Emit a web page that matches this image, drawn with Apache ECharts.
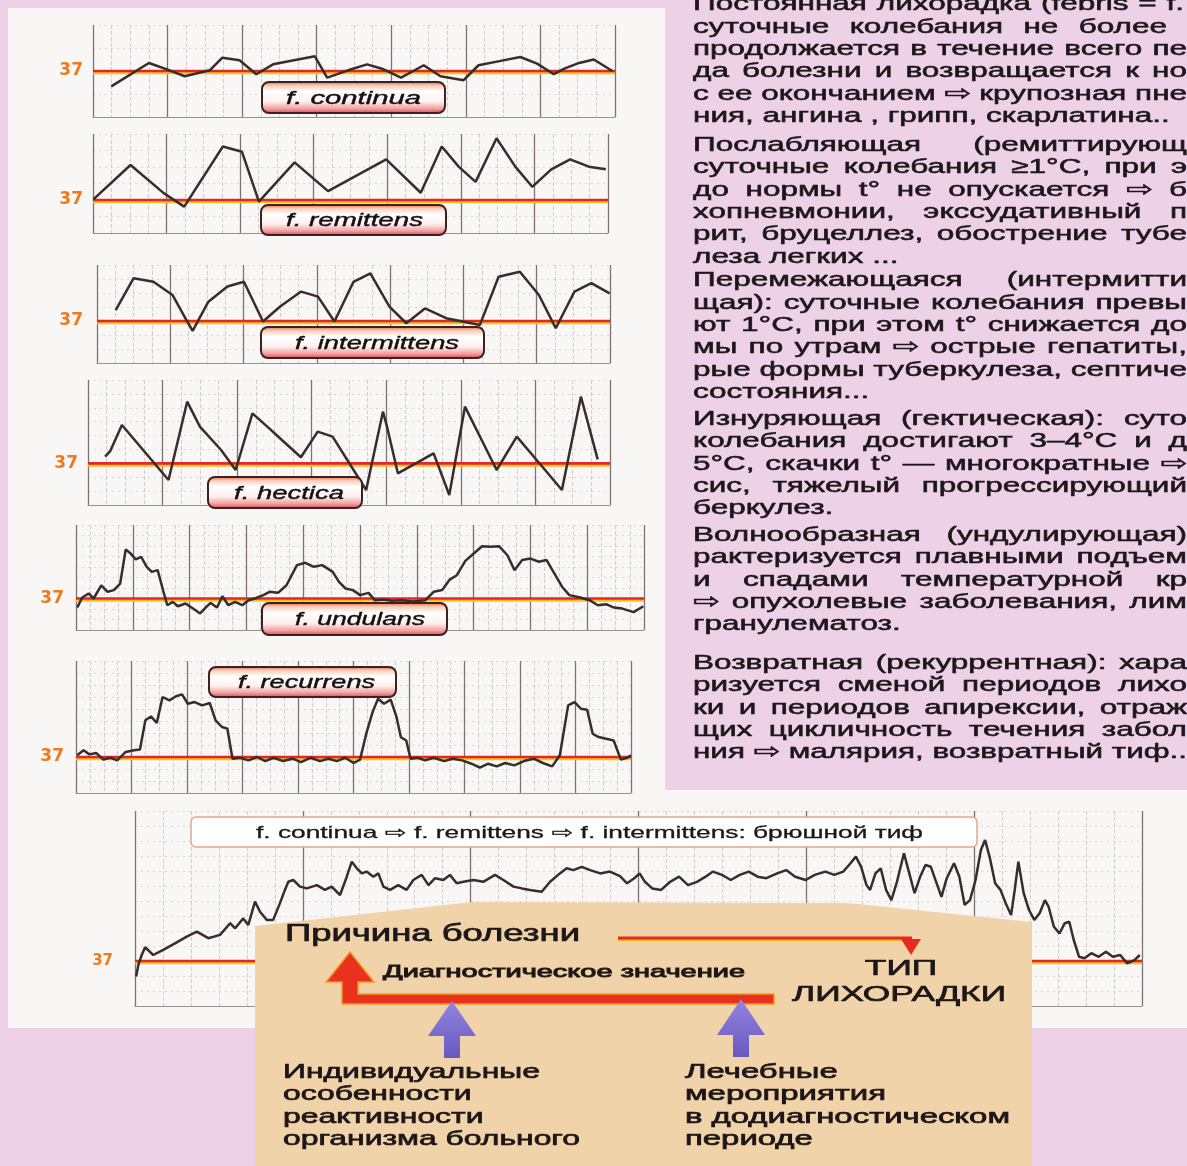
<!DOCTYPE html>
<html>
<head>
<meta charset="utf-8">
<title>Типы лихорадки</title>
<script src="https://cdn.jsdelivr.net/npm/echarts@6.0.0/dist/echarts.min.js"></script>
<style>
html,body{margin:0;padding:0;background:#ecd1e7;overflow:hidden;}
#chart{width:1187px;height:1166px;}
</style>
</head>
<body>
<div id="chart"></div>
<script>
// ================= DATA =================
const NORMAL_T = 37;

const continuaDays  = [0.49,1.50,2.00,2.46,3.13,3.47,3.93,4.38,4.83,5.39,5.95,6.28,6.84,7.35,7.75,8.26,8.59,8.87,9.32,9.94,10.34,10.90,11.46,11.91,12.36,12.64,13.04,13.43,13.93];
const continuaTemps = [36.33,37.35,37.06,36.77,37.03,37.58,37.47,36.86,37.29,37.47,37.64,36.71,37.03,37.29,37.10,36.71,37.00,37.25,36.77,36.60,37.25,37.43,37.61,37.32,36.86,37.10,37.35,37.50,37.00];

const remittensDays  = [0.01,1.02,1.93,2.48,3.53,4.05,4.51,5.48,6.39,7.97,8.91,9.48,9.94,10.40,10.97,11.48,11.94,12.46,12.97,13.48,13.94];
const remittensTemps = [37.02,38.06,37.20,36.80,38.62,38.46,36.95,38.14,37.27,38.23,37.22,38.62,38.01,37.55,38.87,38.01,37.40,37.93,38.23,38.01,37.93];

const intermittensDays  = [0.51,1.00,1.54,2.06,2.41,2.61,3.04,3.56,4.01,4.53,4.99,5.57,6.03,6.48,7.00,7.46,7.98,8.44,8.95,9.53,10.45,10.96,11.54,12.06,12.52,13.03,13.49,13.99];
const intermittensTemps = [37.39,38.53,38.40,37.93,37.10,36.65,37.69,38.23,38.40,36.98,37.51,38.05,37.87,36.98,38.40,38.70,37.51,36.92,37.45,37.10,36.86,38.58,38.76,37.93,36.74,38.05,38.35,37.99];

const hecticaDays  = [0.46,0.60,0.91,2.16,2.66,3.00,3.57,3.96,4.41,4.86,5.20,5.71,6.16,6.56,7.46,7.91,8.02,8.31,9.27,9.69,10.11,10.96,11.50,12.26,12.71,13.22,13.67];
const hecticaTemps = [37.24,37.45,38.38,36.40,39.22,38.32,37.48,36.76,38.80,38.26,37.84,37.22,38.14,37.96,36.04,38.86,38.32,36.64,37.36,35.86,39.04,36.76,37.96,36.76,36.04,39.40,37.14];

const undulansDays  = [0.09,0.44,0.89,1.24,1.78,2.22,2.67,3.11,3.50,3.85,4.21,4.59,4.98,5.33,5.75,6.16,6.43,6.82,7.17,7.71,8.24,8.74,9.13,9.48,9.93,10.31,10.73,11.20,11.71,12.15,12.60,13.19,13.63,14.23,14.82,15.56,16.15,16.75,17.34,18.08,18.52,18.97,19.50,20.01,20.60,21.04,21.64,22.23,22.97,23.71,24.60,25.19,25.79,26.32,26.82,27.42,28.01,28.60,29.19,29.79,30.38,30.88,31.42,32.01,32.60,33.14,33.55,34.23,34.74,35.51,36.16,36.75,37.34,37.88,38.47,39.27,39.95];
const undulansTemps = [36.57,37.05,37.24,37.00,37.63,37.32,37.40,37.71,39.33,39.14,38.86,38.98,38.51,38.27,38.35,37.32,36.68,36.84,36.63,36.76,36.52,36.29,36.57,36.79,36.57,37.11,36.68,36.84,36.68,36.92,37.00,37.16,37.32,37.27,37.63,38.59,38.70,38.51,38.59,38.27,37.79,37.48,37.40,37.16,37.27,36.92,36.95,36.89,36.92,36.86,36.92,37.32,37.40,37.90,38.11,38.79,39.14,39.49,39.46,39.49,39.06,38.35,38.83,38.90,38.75,38.83,38.35,37.56,37.16,37.05,36.92,36.68,36.73,36.57,36.52,36.35,36.63];

const recurrensDays  = [0.09,0.54,0.97,1.45,1.97,2.48,2.97,3.58,4.18,4.61,5.00,5.40,5.82,6.24,6.73,7.21,7.64,8.06,8.55,9.09,9.64,10.06,10.52,10.91,11.28,11.82,12.43,13.04,13.64,14.25,14.92,15.61,16.22,16.92,17.58,18.19,18.80,19.40,20.01,20.47,20.92,21.38,21.77,22.20,22.68,23.10,23.41,23.80,24.11,24.62,25.16,25.77,26.53,27.14,27.83,28.50,29.11,29.71,30.32,30.93,31.59,32.29,32.99,33.65,34.32,34.87,35.47,35.93,36.39,36.84,37.24,37.66,38.21,38.75,39.27,39.72,40.00];
const recurrensTemps = [37.07,37.28,37.11,37.17,36.89,36.97,36.86,37.21,37.28,37.31,38.53,38.69,38.42,39.50,39.36,39.53,39.61,39.22,39.29,39.15,39.25,38.53,38.25,38.18,36.93,36.97,36.86,37.00,36.83,36.97,36.83,36.93,36.79,36.97,36.83,36.93,36.83,36.97,36.75,36.89,37.97,38.88,39.43,39.22,39.39,38.67,37.83,37.69,36.93,36.97,36.86,36.97,36.83,36.93,36.86,36.72,36.56,36.72,36.61,36.75,36.65,36.83,36.93,36.75,36.61,37.07,39.15,39.29,39.01,38.97,37.97,37.83,37.76,37.69,36.89,36.97,37.07];

const typhoidDays  = [0.04,0.12,0.24,0.36,0.65,1.01,1.43,1.85,2.21,2.62,3.04,3.40,3.58,3.87,4.05,4.29,4.47,4.71,4.94,5.18,5.36,5.48,5.66,5.90,6.14,6.50,6.79,7.03,7.33,7.57,7.75,7.93,8.11,8.28,8.52,8.70,8.88,9.12,9.41,9.71,9.95,10.25,10.49,10.73,11.02,11.26,11.50,11.74,12.10,12.45,12.87,13.17,13.53,13.83,14.12,14.54,14.84,15.19,15.43,15.67,15.97,16.27,16.63,16.98,17.34,17.59,17.85,18.04,18.23,18.49,18.81,19.13,19.45,19.77,20.09,20.40,20.66,20.98,21.30,21.62,21.94,22.26,22.57,22.96,23.28,23.60,23.98,24.30,24.68,25.00,25.32,25.58,25.77,25.96,26.15,26.28,26.47,26.66,26.85,27.04,27.24,27.49,27.68,27.87,28.07,28.26,28.45,28.64,28.83,29.02,29.28,29.47,29.66,29.85,30.05,30.24,30.39,30.55,30.75,30.94,31.13,31.32,31.45,31.58,31.77,31.96,32.15,32.34,32.53,32.66,32.85,33.05,33.24,33.40,33.56,33.75,33.94,34.19,34.45,34.71,34.96,35.22,35.47,35.73,35.92];
const typhoidTemps = [36.48,36.87,37.20,37.46,37.20,37.37,37.59,37.81,37.98,37.76,37.87,38.26,38.09,38.42,38.20,38.98,38.64,38.37,38.37,38.92,39.37,39.64,39.70,39.48,39.42,39.53,39.37,39.48,39.20,39.81,40.31,40.09,39.92,39.98,39.81,39.92,39.48,39.37,39.53,39.37,39.70,39.87,39.53,39.76,39.70,39.87,39.59,39.64,39.70,39.64,39.87,39.70,39.48,39.42,39.37,39.31,39.64,39.92,40.09,40.03,40.14,40.03,39.92,39.98,39.83,39.59,39.76,39.92,39.64,39.42,39.37,39.64,39.81,39.53,39.64,39.81,39.98,39.87,39.70,39.87,39.98,39.81,39.76,39.92,40.03,39.81,39.70,39.87,39.98,39.87,39.98,40.26,40.48,40.14,39.53,39.37,39.92,40.09,39.37,39.03,39.64,40.59,39.92,39.26,39.81,40.20,40.14,39.64,39.14,39.76,40.26,39.81,38.87,39.03,39.70,40.70,41.03,40.48,39.59,39.37,38.92,38.53,39.37,40.31,39.26,38.70,38.37,38.59,39.03,38.81,38.14,37.92,38.26,38.31,37.70,37.14,37.09,37.26,37.14,37.31,37.14,37.20,36.92,37.03,37.20];

const panelLabels = ['f. continua','f. remittens','f. intermittens','f. hectica','f. undulans','f. recurrens'];
const typhoidLabel = 'f. continua ⇨ f. remittens ⇨ f. intermittens: брюшной тиф';

const bodyParagraphs = [
  ['Постоянная лихорадка (febris = f.',
   'суточные колебания не более',
   'продолжается в течение всего пе',
   'да болезни и возвращается к но',
   'с ее окончанием ⇨ крупозная пне',
   'ния, ангина , грипп, скарлатина..'],
  ['Послабляющая (ремиттирующ',
   'суточные колебания ≥1°C, при э',
   'до нормы t° не опускается ⇨ б',
   'хопневмонии, экссудативный п',
   'рит, бруцеллез, обострение тубе',
   'леза легких ...'],
  ['Перемежающаяся (интермитти',
   'щая): суточные колебания превы',
   'ют 1°C, при этом t° снижается до',
   'мы по утрам ⇨ острые гепатиты,',
   'рые формы туберкулеза, септиче',
   'состояния...'],
  ['Изнуряющая (гектическая): суто',
   'колебания достигают 3–4°C и д',
   '5°C, скачки t° — многократные ⇨',
   'сис, тяжелый прогрессирующий',
   'беркулез.'],
  ['Волнообразная (ундулирующая)',
   'рактеризуется плавными подъем',
   'и спадами температурной кр',
   '⇨ опухолевые заболевания, лим',
   'гранулематоз.'],
  ['Возвратная (рекуррентная): хара',
   'ризуется сменой периодов лихо',
   'ки и периодов апирексии, отраж',
   'щих цикличность течения забол',
   'ния ⇨ малярия, возвратный тиф..']
];

const causeText = 'Причина болезни';
const diagText = 'Диагностическое значение';
const typeLines = ['ТИП', 'ЛИХОРАДКИ'];
const leftFactorLines = ['Индивидуальные', 'особенности', 'реактивности', 'организма больного'];
const rightFactorLines = ['Лечебные', 'мероприятия', 'в додиагностическом', 'периоде'];

// ================= LAYOUT =================
const panels = [
  {days:continuaDays, temps:continuaTemps, left:93, right:615, top:25, height:92, xMax:14, xInt:2, xMinor:4, yMin:35, yMax:39, yInt:1, lab:17, mar:10,
   box:{x:262,y:82,w:183,h:31,tx:286,tw:135}},
  {days:remittensDays, temps:remittensTemps, left:93, right:608, top:134, height:99, xMax:14, xInt:2, xMinor:4, yMin:36, yMax:39, yInt:0.5, lab:17, mar:10,
   box:{x:261,y:205,w:185,h:30,tx:286,tw:137}},
  {days:intermittensDays, temps:intermittensTemps, left:97, right:610, top:265, height:98, xMax:14, xInt:2, xMinor:4, yMin:35.5, yMax:39, yInt:0.5, lab:17, mar:14,
   box:{x:261,y:327,w:223,h:31,tx:295,tw:164}},
  {days:hecticaDays, temps:hecticaTemps, left:88, right:610, top:380, height:125, xMax:14, xInt:2, xMinor:4, yMin:35.5, yMax:40, yInt:0.5, lab:17, mar:10,
   box:{x:208,y:477,w:154,h:31,tx:234,tw:110}},
  {days:undulansDays, temps:undulansTemps, left:76, right:644, top:525, height:105, xMax:40, xInt:4, xMinor:4, yMin:35.5, yMax:40.5, yInt:0.5, lab:17, mar:12,
   box:{x:262,y:603,w:185,h:32,tx:295,tw:130}},
  {days:recurrensDays, temps:recurrensTemps, left:76, right:631, top:661, height:132, xMax:40, xInt:4, xMinor:4, yMin:35.5, yMax:41, yInt:0.5, lab:17, mar:12,
   box:{x:209,y:667,w:187,h:30,tx:238,tw:137}},
  {days:typhoidDays, temps:typhoidTemps, left:135, right:1142, top:811, height:195, xMax:36, xInt:6, xMinor:6, yMin:35.5, yMax:42, yInt:0.5, lab:15, mar:22,
   box:null}
];

const FONT = "'Liberation Sans', Arial, 'DejaVu Sans', sans-serif";
const INK = '#1c1718';
const mctx = document.createElement('canvas').getContext('2d');
function measure(t, size, weight, style) {
  mctx.font = (style || 'normal') + ' ' + (weight || 'normal') + ' ' + size + 'px ' + FONT;
  return mctx.measureText(t).width;
}
function textEl(t, x, y, size, sx, o) {
  o = o || {};
  const fill = o.fill || INK;
  return {type:'text', x:x, y:y, scaleX:sx, z:o.z || 40, silent:true,
    style:{text:t, fontSize:size, fontFamily:FONT, fontWeight:o.weight || 'normal', fontStyle:o.style || 'normal',
      fill:fill, align:o.align || 'left', verticalAlign:'middle',
      stroke:fill, lineWidth:o.bold === undefined ? 0.55 : o.bold}};
}
function fitText(t, x, y, w, size, o) {
  o = o || {};
  const sx = w / measure(t, size, o.weight, o.style);
  return textEl(t, x, y, size, sx, o);
}

const graphics = [];
// white paper panel
graphics.push({type:'polygon', z:-10, silent:true,
  shape:{points:[[8,8],[665,8],[665,790],[1187,790],[1187,1028],[8,1028]]},
  style:{fill:'#f8f7f6'}});

// label boxes
const boxFill = {type:'linear', x:0, y:0, x2:0, y2:1, colorStops:[
  {offset:0, color:'#e4562e'}, {offset:0.14, color:'#f8cdb8'}, {offset:0.32, color:'#ffffff'},
  {offset:0.62, color:'#fdf1ee'}, {offset:0.84, color:'#f2a0a0'}, {offset:1, color:'#d93b3b'}]};
panels.forEach((p, i) => {
  if (!p.box) return;
  const b = p.box;
  graphics.push({type:'rect', z:50, silent:true, shape:{x:b.x, y:b.y, width:b.w, height:b.h, r:7},
    style:{fill:boxFill, stroke:'#3e2020', lineWidth:2}});
  graphics.push(fitText(panelLabels[i], b.tx, b.y + b.h / 2 + 1, b.tw, 19, {style:'italic', fill:'#141010', z:51, bold:0.4}));
});
// typhoid label box
graphics.push({type:'rect', z:50, silent:true, shape:{x:191, y:817, width:786, height:30, r:5},
  style:{fill:'#ffffff', stroke:'#e8a58e', lineWidth:1.5}});
graphics.push(fitText(typhoidLabel, 256, 833, 667, 17, {fill:'#1d1818', z:51, bold:0.3}));

// right column text (justified)
const BODY = {L:693, size:21, sx:1.5, pitch:22.4};
const paraTops = [4.5, 145, 280.5, 419, 535, 663];
const lineRight = {'0-0':1184, '0-1':1167};
bodyParagraphs.forEach((lines, pi) => {
  lines.forEach((line, li) => {
    const y = paraTops[pi] + li * BODY.pitch;
    const last = li === lines.length - 1;
    const R = lineRight[pi + '-' + li] || 1187;
    const words = line.split(' ').filter(Boolean);
    const raw = words.map(w => measure(w, BODY.size));
    const sp = measure(' ', BODY.size);
    const sumRaw = raw.reduce((a, b) => a + b, 0);
    const avail = R - BODY.L;
    let sx = BODY.sx;
    let gap;
    const natural = (sumRaw + sp * (words.length - 1)) * sx;
    if (natural > avail) { sx = avail / (sumRaw + sp * (words.length - 1)); gap = sp * sx; }
    else if (!last && words.length > 1) { gap = (avail - sumRaw * sx) / (words.length - 1); }
    else gap = sp * sx;
    let x = BODY.L;
    words.forEach((w, k) => { graphics.push(textEl(w, x, y, BODY.size, sx)); x += raw[k] * sx + gap; });
  });
});

// bottom diagram
graphics.push({type:'polygon', z:60, silent:true,
  shape:{points:[[255,926],[472,902],[848,903],[1032,922],[1032,1166],[255,1166]]},
  style:{fill:'#f1d3a9'}});
graphics.push(fitText(causeText, 285, 935, 295, 23, {z:62, bold:0.7}));
graphics.push(fitText(diagText, 383, 972, 362, 17, {z:62, bold:0.9}));
(function () {
  const sx = 214 / measure(typeLines[1], 22);
  graphics.push(textEl(typeLines[0], 901, 969, 22, sx, {align:'center', z:62, bold:0.7}));
  graphics.push(textEl(typeLines[1], 899, 995, 22, sx, {align:'center', z:62, bold:0.7}));
  const lsx = 297 / measure(leftFactorLines[3], 21);
  const rsx = 325 / measure(rightFactorLines[2], 21);
  const ys = [1072, 1094, 1117, 1139];
  leftFactorLines.forEach((t, k) => graphics.push(textEl(t, 283, ys[k], 21, lsx, {z:62, bold:0.7})));
  rightFactorLines.forEach((t, k) => graphics.push(textEl(t, 685, ys[k], 21, rsx, {z:62, bold:0.7})));
})();
// thin red arrow
graphics.push({type:'polyline', z:61, silent:true, shape:{points:[[618,938],[912,938]]},
  style:{stroke:'#e52a1e', lineWidth:3, shadowColor:'#f3b51c', shadowOffsetY:1.5, shadowBlur:0}});
graphics.push({type:'polygon', z:61, silent:true, shape:{points:[[901,939],[921,939],[911,955]]},
  style:{fill:'#e52a1e'}});
// big red L arrow
graphics.push({type:'polygon', z:61, silent:true,
  shape:{points:[[350,952],[374,982],[358,982],[358,994],[774,994],[774,1004],[342,1004],[342,982],[326,982]]},
  style:{fill:'#e8321d', stroke:'#f59a24', lineWidth:1.5}});
// purple arrows
const purple = {type:'linear', x:0, y:0, x2:0, y2:1, colorStops:[{offset:0, color:'#9384de'}, {offset:1, color:'#6759c0'}]};
graphics.push({type:'polygon', z:61, silent:true,
  shape:{points:[[452,1001],[476,1036],[460,1036],[460,1058],[444,1058],[444,1036],[428,1036]]},
  style:{fill:purple}});
graphics.push({type:'polygon', z:61, silent:true,
  shape:{points:[[741,999],[765,1035],[749,1035],[749,1057],[733,1057],[733,1035],[717,1035]]},
  style:{fill:purple}});

// ================= CHART =================
const grids = [], xAxes = [], yAxes = [], series = [];
panels.forEach((p, i) => {
  grids.push({left:p.left, top:p.top, width:p.right - p.left, height:p.height, containLabel:false});
  xAxes.push({gridIndex:i, type:'value', min:0, max:p.xMax, interval:p.xInt,
    axisLine:{show:true, onZero:false, lineStyle:{color:'#9a9090', width:1}},
    axisTick:{show:false}, axisLabel:{show:false},
    splitLine:{show:true, lineStyle:{color:'#7d7373', width:1.3}},
    minorTick:{show:false, splitNumber:p.xMinor},
    minorSplitLine:{show:true, lineStyle:{color:'#d3cccc', width:1, type:'dashed'}}});
  yAxes.push({gridIndex:i, type:'value', min:p.yMin, max:p.yMax, interval:p.yInt,
    axisLine:{show:false}, axisTick:{show:false},
    axisLabel:{show:true, formatter:v => (Math.abs(v - NORMAL_T) < 1e-6 ? String(NORMAL_T) : ''),
      color:'#ef7a1c', fontWeight:'bold', fontFamily:'DejaVu Sans', fontSize:p.lab, margin:p.mar},
    splitLine:{show:true, lineStyle:{color:'#dcd5d5', width:1, type:[2, 4]}}});
  series.push({type:'line', xAxisIndex:i, yAxisIndex:i, data:[[0, NORMAL_T], [p.xMax, NORMAL_T]],
    symbol:'none', silent:true, z:2,
    lineStyle:{color:'#e3262a', width:2.6, shadowColor:'#f5c21a', shadowOffsetY:2, shadowBlur:0}});
  series.push({type:'line', xAxisIndex:i, yAxisIndex:i, data:p.days.map((d, k) => [d, p.temps[k]]),
    symbol:'none', silent:true, z:3, lineStyle:{color:'#382d2a', width:2.5}});
});

const chart = echarts.init(document.getElementById('chart'), null, {renderer:'canvas', width:1187, height:1166});
chart.setOption({
  backgroundColor:'#ecd1e7',
  animation:false,
  grid:grids, xAxis:xAxes, yAxis:yAxes, series:series,
  graphic:{elements:graphics}
});
</script>
</body>
</html>
